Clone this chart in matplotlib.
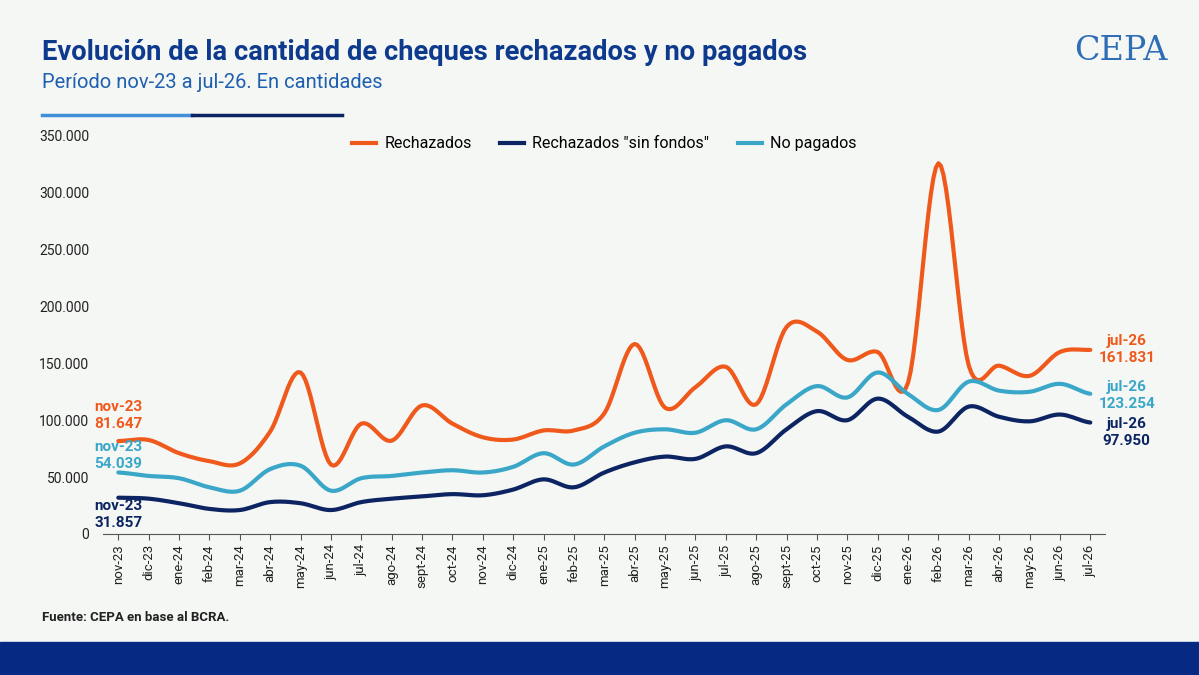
import numpy as np
import matplotlib.pyplot as plt
from matplotlib.lines import Line2D

plt.rcParams["font.family"] = ["Roboto", "DejaVu Sans"]

meses = ["nov-23", "dic-23", "ene-24", "feb-24", "mar-24", "abr-24", "may-24", "jun-24",
         "jul-24", "ago-24", "sept-24", "oct-24", "nov-24", "dic-24", "ene-25", "feb-25",
         "mar-25", "abr-25", "may-25", "jun-25", "jul-25", "ago-25", "sept-25", "oct-25",
         "nov-25", "dic-25", "ene-26", "feb-26", "mar-26", "abr-26", "may-26", "jun-26", "jul-26"]
rechazados = [81647, 82600, 71000, 64000, 62000, 90000, 142000, 61000, 97000, 82000, 113000,
              97000, 85000, 83000, 91000, 91000, 106000, 167000, 111000, 129000, 147000, 114000,
              182000, 178000, 153000, 160000, 133000, 326000, 148000, 148000, 139000, 160000, 161831]
sin_fondos = [31857, 31000, 27000, 22000, 21000, 28000, 27000, 21000, 28000, 31000, 33000,
              35000, 34000, 39000, 48000, 41000, 54000, 63000, 68000, 66000, 77000, 71000,
              92000, 108000, 100000, 119000, 103000, 90000, 112000, 103000, 99000, 105000, 97950]
no_pagados = [54039, 51000, 49000, 41000, 38000, 57000, 60000, 38000, 49000, 51000, 54000,
              56000, 54000, 59000, 71000, 61000, 77000, 89000, 92000, 89000, 100000, 92000,
              114000, 130000, 120000, 142000, 123000, 109000, 134000, 126000, 125000, 132000, 123254]

ORANGE = "#ef5a1c"
NAVY = "#0c2461"
LIGHT = "#3aa7c9"
BG = "#f5f7f5"


def smooth(y, n=12):
    # Catmull-Rom spline, only for drawing the curve
    y = np.asarray(y, float)
    p = np.concatenate([[y[0]], y, [y[-1]]])
    xs, ys = [], []
    t = np.linspace(0, 1, n, endpoint=False)
    for i in range(len(y) - 1):
        p0, p1, p2, p3 = p[i], p[i + 1], p[i + 2], p[i + 3]
        v = 0.5 * (2 * p1 + (-p0 + p2) * t + (2 * p0 - 5 * p1 + 4 * p2 - p3) * t ** 2
                   + (-p0 + 3 * p1 - 3 * p2 + p3) * t ** 3)
        xs.extend(i + t)
        ys.extend(v)
    xs.append(len(y) - 1)
    ys.append(y[-1])
    return np.array(xs), np.array(ys)


def fmt(v):
    return f"{v:,}".replace(",", ".")


fig = plt.figure(figsize=(11.99, 6.75), dpi=100, facecolor=BG)
ax = fig.add_axes([0.086, 0.209, 0.836, 0.5896], facecolor=BG)

for serie, col in [(rechazados, ORANGE), (sin_fondos, NAVY), (no_pagados, LIGHT)]:
    xs, ys = smooth(serie)
    ax.plot(xs, ys, color=col, lw=3, solid_capstyle="round")

x = np.arange(len(meses))
ax.set_xlim(-0.5, 32.5)
ax.set_ylim(0, 350000)
ax.set_xticks(x)
ax.set_xticklabels(meses, rotation=90, fontsize=9.5, color="#222")
ax.set_yticks(np.arange(0, 350001, 50000))
ax.set_yticklabels(["0"] + [fmt(v) for v in range(50000, 350001, 50000)], fontsize=10, color="#222")
ax.tick_params(axis="y", length=0, pad=10)
ax.tick_params(axis="x", length=4, color="#555")
for s in ["top", "right", "left"]:
    ax.spines[s].set_visible(False)
ax.spines["bottom"].set_color("#555")

handles = [Line2D([], [], color=ORANGE, lw=3), Line2D([], [], color=NAVY, lw=3),
           Line2D([], [], color=LIGHT, lw=3)]
ax.legend(handles, ["Rechazados", 'Rechazados "sin fondos"', "No pagados"], loc="center",
          bbox_to_anchor=(0.5, 0.98), ncol=3, frameon=False, fontsize=11.5, handlelength=1.5,
          columnspacing=1.8, handletextpad=0.5)

# etiquetas de inicio y fin
kw = dict(fontsize=11, fontweight="bold", ha="center", va="center", linespacing=1.3)
ax.text(0, 104000, "nov-23\n" + fmt(rechazados[0]), color=ORANGE, **kw)
ax.text(0, 69000, "nov-23\n" + fmt(no_pagados[0]), color=LIGHT, **kw)
ax.text(0, 17000, "nov-23\n" + fmt(sin_fondos[0]), color=NAVY, **kw)
ax.text(33.2, 162000, "jul-26\n" + fmt(rechazados[-1]), color=ORANGE, **kw)
ax.text(33.2, 122000, "jul-26\n" + fmt(no_pagados[-1]), color=LIGHT, **kw)
ax.text(33.2, 89000, "jul-26\n" + fmt(sin_fondos[-1]), color=NAVY, **kw)

fig.text(0.035, 0.922, "Evolución de la cantidad de cheques rechazados y no pagados",
         fontsize=19.7, fontweight="bold", color="#0d3a8c", va="center")
fig.text(0.035, 0.878, "Período nov-23 a jul-26. En cantidades", fontsize=14.5, color="#1f5fb0", va="center")
fig.add_artist(Line2D([0.035, 0.160], [0.830, 0.830], color="#3f8fd8", lw=2.5))
fig.add_artist(Line2D([0.160, 0.285], [0.830, 0.830], color=NAVY, lw=2.5))
fig.text(0.935, 0.925, "CEPA", fontsize=24, color="#2f6db5", family="DejaVu Serif", ha="center", va="center")
fig.text(0.035, 0.08, "Fuente: CEPA en base al BCRA.", fontsize=9.5, fontweight="bold", color="#222")
fig.add_artist(plt.Rectangle((0, 0), 1, 0.049, transform=fig.transFigure, color="#062a84"))

fig.savefig("out.png", dpi=100, facecolor=BG)
